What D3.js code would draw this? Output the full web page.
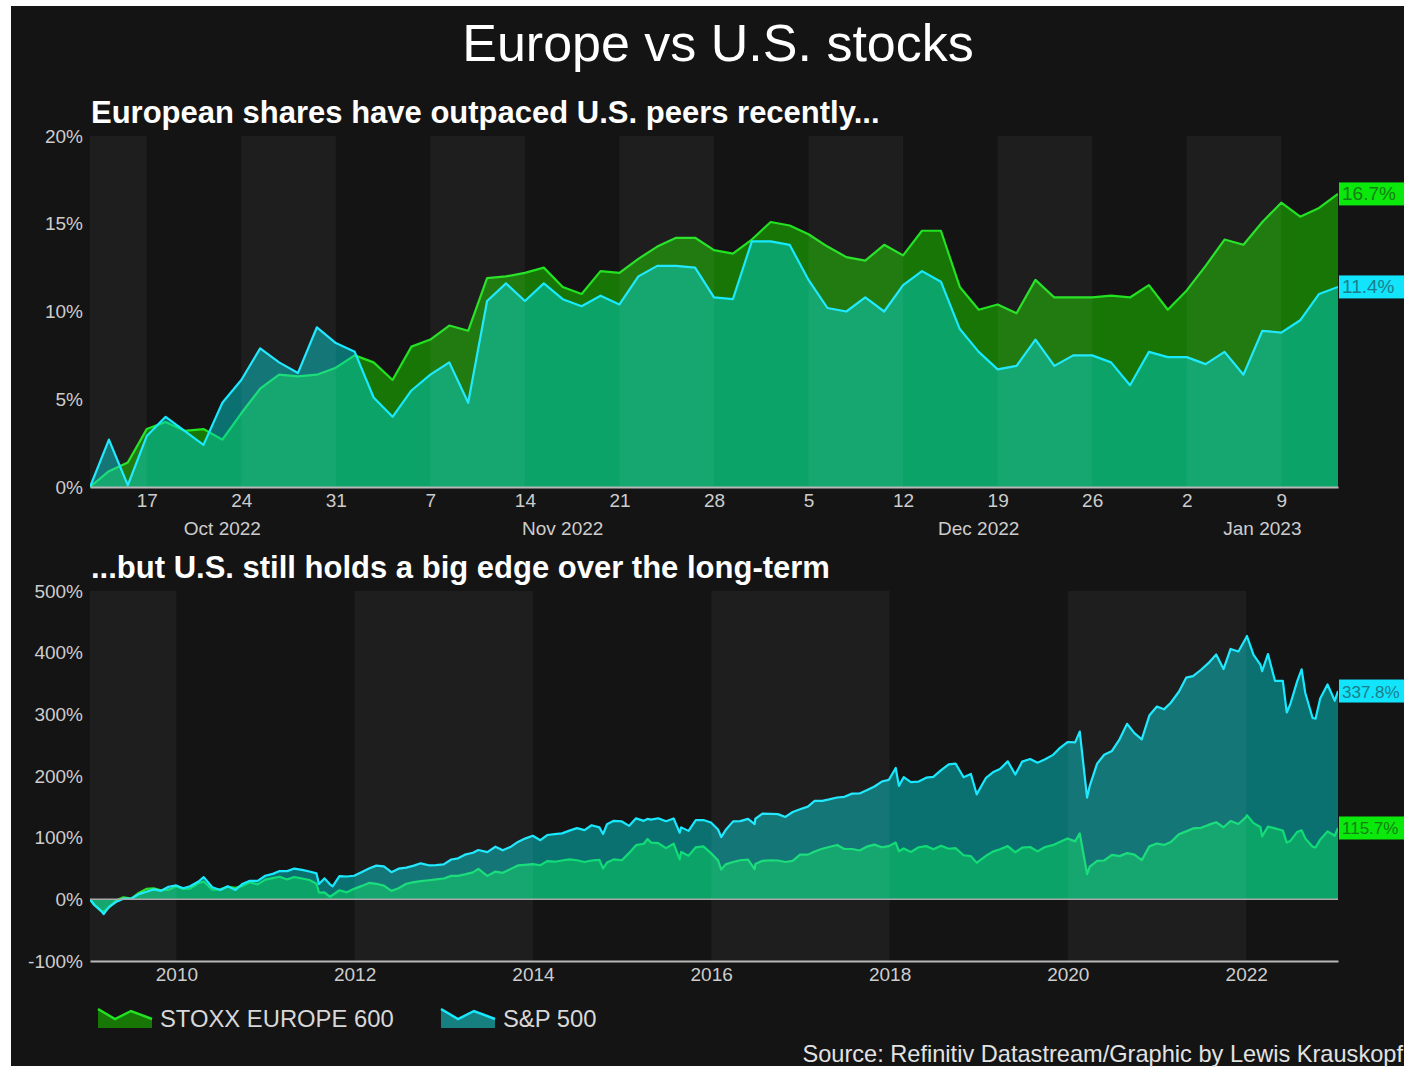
<!DOCTYPE html>
<html>
<head>
<meta charset="utf-8">
<script src="https://cdn.jsdelivr.net/npm/d3@7"></script>
<style>
  body { margin: 0; background: #fff; }
  text { font-family: "Liberation Sans", Arial, Helvetica, sans-serif; }
</style>
</head>
<body>
<svg id="chart" width="1404" height="1067"></svg>
<script>
'use strict';

var mainTitle   = 'Europe vs U.S. stocks';
var topTitle    = 'European shares have outpaced U.S. peers recently...';
var bottomTitle = '...but U.S. still holds a big edge over the long-term';
var sourceText  = 'Source: Refinitiv Datastream/Graphic by Lewis Krauskopf';
var seriesNames = ['STOXX EUROPE 600', 'S&P 500'];

// recent period, one value per weekday, % change since Oct 12 2022
var recentDates = [
  '2022-10-12','2022-10-13','2022-10-14',
  '2022-10-17','2022-10-18','2022-10-19','2022-10-20','2022-10-21',
  '2022-10-24','2022-10-25','2022-10-26','2022-10-27','2022-10-28',
  '2022-10-31','2022-11-01','2022-11-02','2022-11-03','2022-11-04',
  '2022-11-07','2022-11-08','2022-11-09','2022-11-10','2022-11-11',
  '2022-11-14','2022-11-15','2022-11-16','2022-11-17','2022-11-18',
  '2022-11-21','2022-11-22','2022-11-23','2022-11-24','2022-11-25',
  '2022-11-28','2022-11-29','2022-11-30','2022-12-01','2022-12-02',
  '2022-12-05','2022-12-06','2022-12-07','2022-12-08','2022-12-09',
  '2022-12-12','2022-12-13','2022-12-14','2022-12-15','2022-12-16',
  '2022-12-19','2022-12-20','2022-12-21','2022-12-22','2022-12-23',
  '2022-12-26','2022-12-27','2022-12-28','2022-12-29','2022-12-30',
  '2023-01-02','2023-01-03','2023-01-04','2023-01-05','2023-01-06',
  '2023-01-09','2023-01-10','2023-01-11','2023-01-12'
];
var stoxxRecent = [
  0, 0.9, 1.4,
  3.3, 3.7, 3.2, 3.3, 2.7,
  4.2, 5.6, 6.4, 6.3, 6.4,
  6.8, 7.5, 7.1, 6.1, 8.0,
  8.4, 9.2, 8.9, 11.9, 12.0,
  12.2, 12.5, 11.4, 11.0, 12.3,
  12.2, 13.0, 13.7, 14.2, 14.2,
  13.5, 13.3, 14.1, 15.1, 14.9,
  14.4, 13.7, 13.1, 12.9, 13.8,
  13.2, 14.6, 14.6, 11.4, 10.1,
  10.4, 9.9, 11.8, 10.8, 10.8,
  10.8, 10.9, 10.8, 11.5, 10.1,
  11.2, 12.6, 14.1, 13.8, 15.1,
  16.2, 15.4, 15.9, 16.7
];
var spxRecent = [
  0, 2.7, 0.1,
  2.9, 4.0, 3.2, 2.4, 4.8,
  6.1, 7.9, 7.1, 6.5, 9.1,
  8.2, 7.7, 5.1, 4.0, 5.5,
  6.4, 7.1, 4.8, 10.6, 11.6,
  10.6, 11.6, 10.7, 10.3, 10.9,
  10.4, 12.0, 12.6, 12.6, 12.5,
  10.8, 10.7, 14.0, 14.0, 13.8,
  11.8, 10.2, 10.0, 10.8, 10.0,
  11.5, 12.3, 11.7, 9.0, 7.7,
  6.7, 6.9, 8.4, 6.9, 7.5,
  7.5, 7.1, 5.8, 7.7, 7.4,
  7.4, 7.0, 7.7, 6.4, 8.9,
  8.8, 9.5, 11.0, 11.4
];
var recentYTicks = [0, 5, 10, 15, 20];

// long period, % change since Jan 2009
var longDates = [
  '2009-01-12','2009-01-30','2009-02-27','2009-03-09','2009-03-31','2009-04-30','2009-05-29','2009-06-30',
  '2009-07-31','2009-08-31','2009-09-30','2009-10-30','2009-11-30','2009-12-31',
  '2010-01-29','2010-02-26','2010-03-31','2010-04-23','2010-05-28','2010-06-30','2010-07-30','2010-08-31',
  '2010-09-30','2010-10-29','2010-11-30','2010-12-31',
  '2011-01-31','2011-02-28','2011-03-31','2011-04-29','2011-05-31','2011-06-30','2011-07-29','2011-08-08',
  '2011-08-31','2011-09-22','2011-10-03','2011-10-31','2011-11-30','2011-12-30',
  '2012-01-31','2012-02-29','2012-03-30','2012-04-30','2012-05-31','2012-06-29','2012-07-31','2012-08-31',
  '2012-09-28','2012-10-31','2012-11-30','2012-12-31',
  '2013-01-31','2013-02-28','2013-03-28','2013-04-30','2013-05-22','2013-06-28','2013-07-31','2013-08-30',
  '2013-09-30','2013-10-31','2013-11-29','2013-12-31',
  '2014-01-31','2014-02-28','2014-03-31','2014-04-30','2014-05-30','2014-06-30','2014-07-31','2014-08-29',
  '2014-09-30','2014-10-15','2014-10-31','2014-11-28','2014-12-31',
  '2015-01-30','2015-02-27','2015-03-31','2015-04-15','2015-04-30','2015-05-29','2015-06-30','2015-07-31',
  '2015-08-25','2015-08-31','2015-09-30','2015-10-30','2015-11-30','2015-12-31',
  '2016-01-29','2016-02-11','2016-02-29','2016-03-31','2016-04-29','2016-05-31','2016-06-27','2016-06-30',
  '2016-07-29','2016-08-31','2016-09-30','2016-10-31','2016-11-30','2016-12-30',
  '2017-01-31','2017-02-28','2017-03-31','2017-04-28','2017-05-31','2017-06-30','2017-07-31','2017-08-31',
  '2017-09-29','2017-10-31','2017-11-30','2017-12-29',
  '2018-01-26','2018-02-08','2018-02-28','2018-03-29','2018-04-30','2018-05-31','2018-06-29','2018-07-31',
  '2018-08-31','2018-09-28','2018-10-31','2018-11-30','2018-12-24','2018-12-31',
  '2019-01-31','2019-02-28','2019-03-29','2019-04-30','2019-05-31','2019-06-28','2019-07-31','2019-08-30',
  '2019-09-30','2019-10-31','2019-11-29','2019-12-31',
  '2020-01-31','2020-02-19','2020-03-20','2020-03-31','2020-04-30','2020-05-29','2020-06-30','2020-07-31',
  '2020-08-31','2020-09-30','2020-10-30','2020-11-30','2020-12-31',
  '2021-01-29','2021-02-26','2021-03-31','2021-04-30','2021-05-28','2021-06-30','2021-07-30','2021-08-31',
  '2021-09-30','2021-10-29','2021-11-30','2021-12-31',
  '2022-01-04','2022-01-31','2022-02-28','2022-03-07','2022-03-31','2022-04-29','2022-05-31','2022-06-16',
  '2022-06-30','2022-07-29','2022-08-16','2022-08-31','2022-09-30','2022-10-12','2022-10-31','2022-11-30',
  '2022-12-30','2023-01-12'
];
var stoxxLong = [
  0, -9.2, -18.8, -20, -13, -1.6, 3.2, 1.3,
  10.4, 17, 18, 14.7, 15.6, 21.4,
  17, 17.5, 26, 29, 15.6, 16.1, 20.4, 18.5,
  21.8, 27.6, 24.2, 31.9,
  34.3, 36.6, 32.3, 36.2, 33.8, 31.4, 25.2, 11,
  11.3, 4, 7, 14.7, 11.3, 17,
  21.8, 26.6, 25.2, 22.3, 13.7, 18, 25.2, 28,
  29.5, 30.9, 32.3, 33.8,
  38, 38, 40.5, 43.8, 49.5, 38, 45, 43,
  49, 55, 56, 57,
  55.3, 62, 61, 63, 64.8, 63.4, 60.5, 63,
  63.9, 50, 59.6, 64.8, 63.4,
  75.3, 87.8, 90.2, 97.8, 92, 91.1, 83, 90.2,
  64.8, 76.8, 70.6, 84.4, 85.9, 74.9,
  63.4, 48.1, 56.7, 60.5, 63.4, 64.4, 49, 57.2,
  62.4, 63.4, 63, 60.5, 62.4, 72.5,
  72.5, 77.7, 82, 84.9, 88.2, 81.6, 81.6, 79.2,
  85.4, 88.7, 84.4, 86.3,
  92, 78, 82.5, 76.8, 84.4, 86.3, 81.1, 86.8,
  82, 83, 71.5, 70.1, 59.1, 61.5,
  70.6, 77.3, 81.1, 86.3, 76.3, 83.9, 84.9, 77.7,
  84.9, 87.8, 93, 98.8,
  94, 107, 41, 52.9, 62.4, 63, 72, 70.1,
  74.9, 72.5, 63.4, 85.9, 90.6,
  88.2, 93, 105.4, 110.2, 115, 116, 120.7, 125,
  116.9, 127, 122.2, 133.2,
  136.5, 123.6, 117.4, 102.1, 117.9, 115, 111.7, 92,
  94.5, 109.3, 112, 98.8, 85.4, 84, 96.8, 110.2,
  103.1, 115.7
];
var spxLong = [
  0, -9.2, -19.2, -24, -12.3, -4.1, 1.0, 1.0,
  8.5, 12.2, 16.2, 13.8, 20.4, 22.5,
  18.0, 21.3, 28.5, 36, 19.7, 15, 21.1, 15.3,
  25.4, 30.0, 29.8, 38.2,
  41.3, 45.8, 45.7, 49.9, 47.8, 45.2, 42.0, 25,
  34, 24.3, 21, 37.7, 37.0, 38.2,
  44.2, 50.1, 54.7, 53.6, 44.0, 49.7, 51.5, 54.6,
  58.4, 55.2, 55.6, 56.7,
  64.6, 66.5, 72.4, 75.6, 80, 76.5, 85.3, 79.5,
  84.8, 93.1, 98.5, 103.1,
  95.9, 104.3, 105.7, 107.0, 111.4, 115.4, 112.2, 120.1,
  116.7, 106, 121.8, 127.3, 126.3,
  119.2, 131.3, 127.3, 130.5, 129.2, 131.5, 126.7, 131.2,
  108, 116.7, 111.0, 128.5, 128.6, 124.6,
  113.2, 101, 112.3, 126.4, 126.9, 130.4, 122, 130.7,
  138.9, 138.6, 138.2, 133.6, 141.6, 146.0,
  150.4, 159.8, 159.7, 162.0, 165.1, 166.3, 171.4, 171.6,
  176.8, 183.0, 191.0, 193.8,
  213, 184, 198.2, 190.2, 191.0, 197.3, 198.7, 209.5,
  218.9, 220.2, 198.0, 203.3, 170, 175.5,
  197.1, 205.9, 211.4, 223.7, 202.4, 223.3, 227.5, 221.5,
  227.1, 233.8, 245.2, 255.1,
  254.5, 272, 165, 184.1, 220.0, 234.5, 240.7, 259.5,
  284.6, 269.6, 259.3, 298.0, 312.7,
  308.1, 318.8, 336.6, 359.5, 362.0, 372.3, 383.0, 397.0,
  373.4, 406.0, 401.9, 423.7,
  427, 396.3, 380.7, 370, 397.8, 354.1, 354.1, 303,
  315.9, 353.8, 373, 334.6, 294.1, 293, 325.5, 348.4,
  322.0, 337.8
];
var longYTicks = [-100, 0, 100, 200, 300, 400, 500];
var longXTicks = [2010, 2012, 2014, 2016, 2018, 2020, 2022];

var STOXX_FILL = '#177606';
var STOXX_LINE = '#22e222';
var SPX_FILL   = 'rgba(0,214,214,0.48)';
var SPX_LINE   = '#19e9ff';
var TICK_COLOR = '#cdcdcd';

var parseDay = d3.timeParse('%Y-%m-%d');
var svg = d3.select('#chart');

// dark card
svg.append('rect')
  .attr('x', 11).attr('y', 6)
  .attr('width', 1393).attr('height', 1060)
  .attr('fill', '#141414');

svg.append('text')
  .attr('x', 718).attr('y', 61)
  .attr('text-anchor', 'middle')
  .attr('fill', '#ffffff')
  .style('font-size', '52px')
  .text(mainTitle);

svg.append('text')
  .attr('x', 91).attr('y', 123)
  .attr('fill', '#ffffff')
  .style('font-size', '31px').style('font-weight', 'bold')
  .text(topTitle);

svg.append('text')
  .attr('x', 91).attr('y', 578)
  .attr('fill', '#ffffff')
  .style('font-size', '31px').style('font-weight', 'bold')
  .text(bottomTitle);

// alternating shade between edges: [e0,e1], [e2,e3], ...
function bandPairs(edges) {
  var out = [];
  for (var i = 0; i + 1 < edges.length; i += 2) out.push([edges[i], edges[i + 1]]);
  return out;
}

function drawPanel(cfg) {
  var g = svg.append('g');
  var x = cfg.x, y = cfg.y, xs = cfg.xs;
  var left = x.range()[0], right = x.range()[1];
  var top = y.range()[1], bottom = y.range()[0];

  g.append('clipPath').attr('id', cfg.id + '-clip')
    .append('rect')
      .attr('x', left).attr('y', top - 2)
      .attr('width', right - left).attr('height', bottom - top + 4);

  var plot = g.append('g').attr('clip-path', 'url(#' + cfg.id + '-clip)');

  var area = d3.area()
    .x(function (d, i) { return x(xs[i]); })
    .y0(y(0))
    .y1(function (d) { return y(d); });
  var line = d3.line()
    .x(function (d, i) { return x(xs[i]); })
    .y(function (d) { return y(d); });

  plot.append('path').attr('d', area(cfg.stoxx)).attr('fill', STOXX_FILL);
  plot.append('path').attr('d', line(cfg.stoxx))
    .attr('fill', 'none').attr('stroke', STOXX_LINE)
    .attr('stroke-width', 2.2).attr('stroke-linejoin', 'round');
  plot.append('path').attr('d', area(cfg.spx)).attr('fill', SPX_FILL);
  plot.append('path').attr('d', line(cfg.spx))
    .attr('fill', 'none').attr('stroke', SPX_LINE)
    .attr('stroke-width', 2.2).attr('stroke-linejoin', 'round');

  // week / two-year shading, laid over everything so the fills show it too
  g.selectAll('.band').data(bandPairs(cfg.bandEdges)).enter().append('rect')
    .attr('class', 'band')
    .attr('x', function (d) { return x(d[0]); })
    .attr('width', function (d) { return x(d[1]) - x(d[0]); })
    .attr('y', top).attr('height', bottom - top)
    .attr('fill', 'rgba(255,255,255,0.045)');

  // zero line
  g.append('line')
    .attr('x1', left).attr('x2', right)
    .attr('y1', y(0)).attr('y2', y(0))
    .attr('stroke', '#a9a9a9').attr('stroke-width', cfg.zeroWidth);

  var yAxis = d3.axisLeft(y).tickValues(cfg.yTicks)
    .tickFormat(function (d) { return d + '%'; })
    .tickSize(0).tickPadding(6);
  var ya = g.append('g').attr('transform', 'translate(' + (left - 1) + ',0)').call(yAxis);
  ya.select('.domain').remove();
  ya.selectAll('text').attr('fill', TICK_COLOR).style('font-size', '19px').style('font-family', null);

  var xAxis = d3.axisBottom(x).tickValues(cfg.xTicks).tickFormat(cfg.xFormat)
    .tickSize(0).tickPadding(7);
  var xa = g.append('g').attr('transform', 'translate(0,' + bottom + ')').call(xAxis);
  xa.select('.domain').attr('stroke', '#b8b8b8').attr('stroke-width', 2);
  xa.selectAll('text').attr('fill', TICK_COLOR).style('font-size', '19px').style('font-family', null);

  // end-of-line value tags, sized so they stay inside the card
  var tags = [
    {v: cfg.stoxx[cfg.stoxx.length - 1], bg: '#0be80b', fg: '#157f15'},
    {v: cfg.spx[cfg.spx.length - 1], bg: '#12e4fb', fg: '#1a7f8c'}
  ];
  tags.forEach(function (t) {
    var ty = y(t.v);
    g.append('rect')
      .attr('x', right + 1).attr('y', ty - 11.5)
      .attr('width', 80).attr('height', 23)
      .attr('fill', t.bg);
    g.append('text')
      .attr('x', right + 4).attr('y', ty + 6.5)
      .attr('fill', t.fg)
      .style('font-size', cfg.tagSize + 'px')
      .text(t.v.toFixed(1) + '%');
  });

  return g;
}

// top panel: weekday index axis
var recentIdx = recentDates.map(function (d, i) { return i; });
var mondays = recentIdx.filter(function (i) { return parseDay(recentDates[i]).getDay() === 1; });
var xTop = d3.scaleLinear().domain([0, recentDates.length - 1]).range([90, 1338]);
var yTop = d3.scaleLinear().domain([0, 20]).range([487, 136]);

var topPanel = drawPanel({
  id: 'recent',
  x: xTop, y: yTop, xs: recentIdx,
  stoxx: stoxxRecent, spx: spxRecent,
  yTicks: recentYTicks,
  xTicks: mondays,
  xFormat: function (i) { return parseDay(recentDates[i]).getDate(); },
  bandEdges: [0].concat(mondays, [recentDates.length - 1]),
  zeroWidth: 0,
  tagSize: 19
});

// month names under the day ticks
var monthGroups = d3.groups(recentIdx, function (i) { return recentDates[i].slice(0, 7); });
topPanel.selectAll('.month').data(monthGroups).enter().append('text')
  .attr('class', 'month')
  .attr('x', function (d) {
    var first = d[1][0], last = d[1][d[1].length - 1];
    return xTop((first + Math.min(last + 1, recentDates.length - 1)) / 2);
  })
  .attr('y', 535)
  .attr('text-anchor', 'middle')
  .attr('fill', TICK_COLOR)
  .style('font-size', '19px')
  .text(function (d) { return d3.timeFormat('%b %Y')(parseDay(d[0] + '-01')); });

// bottom panel: time axis
var longX = longDates.map(parseDay);
var xBottom = d3.scaleTime().domain([longX[0], longX[longX.length - 1]]).range([90, 1338]);
var yBottom = d3.scaleLinear().domain([-100, 500]).range([961, 591]);
var yearDates = longXTicks.map(function (yr) { return new Date(yr, 0, 1); });

drawPanel({
  id: 'long',
  x: xBottom, y: yBottom, xs: longX,
  stoxx: stoxxLong, spx: spxLong,
  yTicks: longYTicks,
  xTicks: yearDates,
  xFormat: d3.timeFormat('%Y'),
  bandEdges: [longX[0]].concat(yearDates, [longX[longX.length - 1]]),
  zeroWidth: 1.5,
  tagSize: 17
});

// legend
var legend = [
  {name: seriesNames[0], fill: STOXX_FILL, stroke: STOXX_LINE, x: 98},
  {name: seriesNames[1], fill: '#15807f', stroke: SPX_LINE, x: 441}
];
var iconPts = [[0, 1], [17, 11], [33, 3], [54, 11]];
legend.forEach(function (l) {
  var gx = d3.scaleLinear().domain([0, 54]).range([l.x, l.x + 54]);
  var gy = d3.scaleLinear().domain([0, 20]).range([1008, 1028]);
  var icon = d3.area().x(function (p) { return gx(p[0]); }).y0(gy(20)).y1(function (p) { return gy(p[1]); });
  var iconLine = d3.line().x(function (p) { return gx(p[0]); }).y(function (p) { return gy(p[1]); });
  svg.append('path').attr('d', icon(iconPts)).attr('fill', l.fill);
  svg.append('path').attr('d', iconLine(iconPts)).attr('fill', 'none')
    .attr('stroke', l.stroke).attr('stroke-width', 2.5);
  svg.append('text')
    .attr('x', l.x + 62).attr('y', 1027)
    .attr('fill', '#d8d8d8')
    .style('font-size', '23.8px')
    .text(l.name);
});

svg.append('text')
  .attr('x', 1403).attr('y', 1062)
  .attr('text-anchor', 'end')
  .attr('fill', '#e2e2e2')
  .style('font-size', '23.6px')
  .text(sourceText);
</script>
</body>
</html>
